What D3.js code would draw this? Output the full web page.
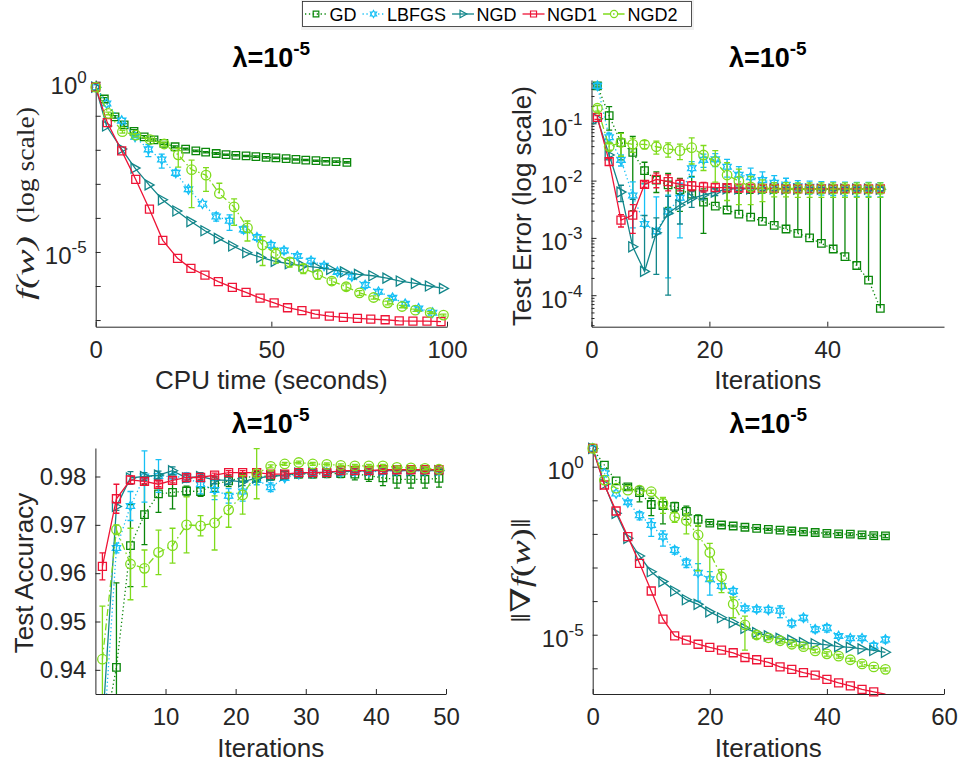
<!DOCTYPE html>
<html><head><meta charset="utf-8">
<script src="https://cdn.jsdelivr.net/npm/d3@7/dist/d3.min.js"></script>
<style>body{margin:0;background:#fff}svg{display:block}</style>
</head><body>
<svg id="c" width="958" height="767"></svg>
<script>
// ---------------- data ----------------
const seriesNames = ["GD","LBFGS","NGD","NGD1","NGD2"];
const titleBase = "λ=10", titleExp = "-5";

// Panel 1: f(w) vs CPU time
const p1GD_t = [0,2.45,5.5,8.1,10.9,13.8,16.6,19.4,22.6,25.6,28.5,31.3,34.3,37.1,39.9,42.8,45.6,48.5,51.3,54.2,57.0,59.8,62.7,65.5,68.4,71.5];
const p1GD_v = [0.69,0.31,0.093,0.054,0.035,0.024,0.0195,0.0155,0.0123,0.0105,0.0093,0.0085,0.0078,0.0072,0.0069,0.0066,0.0063,0.006,0.0058,0.0055,0.0052,0.005,0.0048,0.0046,0.0045,0.0043];
const p1GD_e = [0,0.03,0.008,0.005,0.004,0.002,0.0015,0.001,0.0008,0.0006,0.0005,0.0004,0.0004,0.0003,0.0003,0.0003,0.0003,0.0003,0.0003,0.0002,0.0002,0.0002,0.0002,0.0002,0.0002,0.0002];
const p1LBFGS_t = [0,3.1,7.4,11.2,15.0,18.8,22.8,26.4,30.4,34.3,38.1,42.1,45.9,49.9,53.6,57.4,61.3,65.0,68.8,72.9,76.7,80.5,84.5,88.1,91.9,95.9];
const p1LBFGS_v = [0.69,0.23,0.072,0.024,0.0103,0.0052,0.0021,6.9e-4,2.6e-4,1.1e-4,8.3e-5,4.6e-5,2.7e-5,1.6e-5,1.1e-5,7.6e-6,5.5e-6,3.9e-6,2.6e-6,1.9e-6,1.07e-6,6.8e-7,4.5e-7,3.0e-7,2.2e-7,1.65e-7];
const p1LBFGS_e = [0,0,0,0.001,0.004,0.0023,0.0004,1e-4,0,3e-5,4e-5,1e-5,5e-6,3e-6,2e-6,1e-6,1e-6,5e-7,3e-7,3e-7,2e-7,1e-7,5e-8,3e-8,2e-8,1e-8];
const p1NGD_t = [0,3.1,7.4,11.2,15.2,19.0,23.1,27.1,31.1,34.9,39.0,43.0,47.0,51.1,55.1,59.0,63.0,66.9,70.8,74.8,78.9,82.9,86.7,91.0,95.0,99.0];
const p1NGD_v = [0.69,0.05,0.0105,2.9e-3,9.3e-4,3.4e-4,1.6e-4,7.8e-5,4.2e-5,2.5e-5,1.5e-5,9.5e-6,6.9e-6,5.3e-6,4.5e-6,3.9e-6,3.5e-6,3.1e-6,2.6e-6,2.2e-6,2.0e-6,1.7e-6,1.4e-6,1.2e-6,1.0e-6,8.5e-7];
const p1NGD1_t = [0,3.3,7.4,11.4,15.3,19.1,23.3,27.1,31.1,34.9,38.9,42.8,46.8,50.8,54.6,58.7,62.5,66.5,70.5,74.5,78.3,82.4,86.4,90.3,94.3,98.3];
const p1NGD1_v = [0.69,0.063,9.3e-3,1.35e-3,1.8e-4,2.2e-5,6.5e-6,3.3e-6,2.1e-6,1.35e-6,9.1e-7,6.5e-7,4.4e-7,3.2e-7,2.3e-7,1.9e-7,1.5e-7,1.3e-7,1.2e-7,1.12e-7,1.07e-7,1.02e-7,9.5e-8,9.3e-8,9.3e-8,9.0e-8];
const p1NGD2_t = [0,3.6,7.6,11.4,15.5,19.5,23.5,27.3,31.4,35.2,39.4,43.2,47.5,51.3,55.2,59.1,63.2,67.2,71.3,75.1,79.1,83.1,87.2,91.0,95.2,99.0];
const p1NGD2_v = [0.69,0.117,0.034,0.027,0.020,0.0148,7.1e-3,2.6e-3,1.8e-3,5.2e-4,2.1e-4,5.1e-5,1.6e-5,8.7e-6,5.1e-6,3.3e-6,2.2e-6,1.4e-6,9.5e-7,6.3e-7,4.6e-7,3.2e-7,2.5e-7,1.95e-7,1.66e-7,1.4e-7];
const p1NGD2_e = [0,0.01,0.003,0.003,0.002,0.002,4e-3,2.4e-3,1.2e-3,5.2e-4,1.5e-4,3e-5,1.2e-5,4e-6,1.5e-6,1e-6,6e-7,3e-7,2e-7,1e-7,5e-8,4e-8,2e-8,1.5e-8,1e-8,1e-8];

// iterations
const itersOdd = [1,3,5,7,9,11,13,15,17,19,21,23,25,27,29,31,33,35,37,39,41,43,45,47,49];
const itersEven = [0,2,4,6,8,10,12,14,16,18,20,22,24,26,28,30,32,34,36,38,40,42,44,46,48,50];

// Panel 2: test error
const p2GD_v = [0.45,0.136,0.046,0.031,0.0149,0.0102,8.4e-3,6.9e-3,5.8e-3,4.2e-3,3.6e-3,3.07e-3,2.6e-3,2.3e-3,1.95e-3,1.66e-3,1.43e-3,1.2e-3,1.0e-3,8.0e-4,6.4e-4,4.7e-4,3.3e-4,1.84e-4,5.9e-5];
const p2GD_e = [0.02,0.06,0.023,0.028,0.006,0.004,0.005,0.004,0.006,0.003,3.7e-3,3.1e-3,3.4e-3,3.7e-3,4.05e-3,4.34e-3,4.57e-3,4.8e-3,5.0e-3,5.2e-3,5.36e-3,5.53e-3,5.67e-3,5.8e-3,5.9e-3];
const p2LBFGS_v = [0.45,0.057,0.023,5.5e-3,1.75e-3,1.3e-3,2.9e-3,5e-3,0.0164,0.023,0.0235,0.0175,0.0126,0.0115,0.0102,9.2e-3,8.5e-3,8e-3,7.8e-3,7.6e-3,7.5e-3,7.4e-3,7.3e-3,7.3e-3,7.2e-3];
const p2LBFGS_e = [0.05,0.01,0.005,4e-3,7e-3,3.9e-3,2.7e-3,4e-3,5e-3,6e-3,6e-3,6e-3,5e-3,5e-3,4e-3,3e-3,2.5e-3,2e-3,2e-3,2e-3,2e-3,2e-3,2e-3,2e-3,2e-3];
const p2NGD_v = [0.12,0.028,6.3e-3,7.0e-4,2.6e-4,1.23e-3,2.7e-3,3.75e-3,4.9e-3,5.6e-3,6.3e-3,7.2e-3,7.2e-3,7.2e-3,7.2e-3,7.2e-3,7.1e-3,7.1e-3,7.1e-3,7.1e-3,7.1e-3,7.1e-3,7.1e-3,7.1e-3,7.1e-3];
const p2NGD_e = [0,0.005,2e-3,4e-3,2.2e-3,1e-3,2.6e-3,2e-3,1.5e-3,1e-3,8e-4,6e-4,5e-4,5e-4,5e-4,5e-4,5e-4,5e-4,5e-4,5e-4,5e-4,5e-4,5e-4,5e-4,5e-4];
const p2NGD1_v = [0.127,0.0214,2.05e-3,2.5e-3,8.6e-3,0.0105,0.0096,8.6e-3,8.1e-3,7.8e-3,7.6e-3,7.5e-3,7.4e-3,7.4e-3,7.3e-3,7.3e-3,7.2e-3,7.2e-3,7.2e-3,7.2e-3,7.2e-3,7.2e-3,7.2e-3,7.2e-3,7.2e-3];
const p2NGD1_e = [0.01,0.003,5e-4,1.3e-3,1e-3,3e-3,3e-3,2e-3,1.5e-3,1.5e-3,1.2e-3,1e-3,1e-3,1e-3,1e-3,1e-3,1e-3,1e-3,1e-3,1e-3,1e-3,1e-3,1e-3,1e-3,1e-3];
const p2NGD2_v = [0.183,0.039,0.0466,0.043,0.043,0.039,0.0356,0.0333,0.0375,0.028,0.0214,0.0125,0.0098,7.8e-3,7.3e-3,7.2e-3,7.2e-3,7.1e-3,7.1e-3,7.1e-3,7.1e-3,7.1e-3,7.1e-3,7.1e-3,7.1e-3];
const p2NGD2_e = [0.02,0.005,0.02,0.012,0.007,0.01,0.01,0.01,0.018,0.013,0.012,0.008,0.006,0.004,3e-3,2e-3,2e-3,2e-3,2e-3,2e-3,2e-3,2e-3,2e-3,2e-3,2e-3];

// Panel 3: test accuracy
const p3GD_v = [0.925,0.9405,0.9657,0.9721,0.9764,0.9767,0.977,0.9769,0.9784,0.9791,0.9798,0.98,0.9801,0.9803,0.9805,0.9805,0.9806,0.9806,0.9805,0.9802,0.9797,0.9794,0.9794,0.9794,0.9796];
const p3GD_e = [0,0.0175,0.0085,0.0062,0.0038,0.0034,0.001,0.001,0.0015,0.0012,0.001,0.001,0.0008,0.0008,0.0008,0.0008,0.0008,0.0008,0.0012,0.0012,0.0016,0.0018,0.0018,0.0018,0.0018];
const p3LBFGS_v = [0.922,0.9652,0.9739,0.98,0.9801,0.98,0.9798,0.9784,0.9772,0.976,0.9769,0.9793,0.9778,0.9797,0.9805,0.9807,0.9808,0.9809,0.981,0.981,0.9811,0.9812,0.9812,0.9812,0.9812];
const p3LBFGS_e = [0,0.001,0.003,0.0053,0.0034,0.0005,0.001,0.002,0.002,0.0015,0.002,0.001,0.0009,0.0005,0.0005,0.0005,0.0005,0.0005,0.0005,0.0005,0.0005,0.0005,0.0005,0.0005,0.0005];
const p3NGD_v = [0.928,0.9738,0.9797,0.98,0.9803,0.9812,0.9797,0.98,0.9793,0.9792,0.9789,0.9797,0.98,0.9803,0.9807,0.9808,0.9809,0.981,0.9811,0.9812,0.9812,0.9812,0.9812,0.9812,0.9812];
const p3NGD_e = [0,0.0008,0.0013,0.0008,0.0008,0.0008,0.0008,0.0008,0.0008,0.0008,0.0008,0.0008,0.0008,0.0008,0.0008,0.0007,0.0007,0.0006,0.0006,0.0006,0.0006,0.0006,0.0006,0.0006,0.0006];
const p3NGD1_v = [0.9614,0.9754,0.9793,0.979,0.9784,0.9792,0.9798,0.9798,0.9803,0.9808,0.9808,0.9808,0.9805,0.9805,0.9808,0.9808,0.9808,0.9812,0.9812,0.9812,0.9814,0.9814,0.9814,0.9814,0.9814];
const p3NGD1_e = [0.0028,0.003,0.0008,0.0005,0.0005,0.0005,0.0005,0.0004,0.0004,0.0004,0.0004,0.0004,0.0004,0.0004,0.0004,0.0004,0.0004,0.0004,0.0004,0.0004,0.0004,0.0004,0.0004,0.0004,0.0004];
const p3NGD2_v = [0.9422,0.969,0.9619,0.961,0.9643,0.9657,0.970,0.9698,0.9704,0.9731,0.9762,0.9806,0.9821,0.9826,0.9829,0.9826,0.9825,0.9823,0.9822,0.9822,0.9822,0.9819,0.9818,0.9817,0.9815];
const p3NGD2_e = [0.011,0.001,0.0074,0.0038,0.0046,0.0036,0.0058,0.0021,0.0056,0.0036,0.004,0.0052,0.0003,0.0003,0.0003,0.0003,0.0003,0.0003,0.0003,0.0003,0.0003,0.0003,0.0003,0.0003,0.0003];

// Panel 4: gradient norm
const p4GD_v = [3.5,1.12,0.38,0.25,0.17,0.075,0.07,0.066,0.047,0.027,0.021,0.0184,0.0172,0.0158,0.0146,0.0137,0.013,0.0122,0.0116,0.011,0.0104,0.01,0.0098,0.0093,0.0089,0.0087];
const p4GD_e = [0,0,0,0.04,0.08,0.04,0.05,0.02,0.02,0.01,0.002,0.001,0.001,0.001,0.001,0.001,0.001,0.001,0.001,0.001,0.001,0.001,0.001,0.001,0.001,0.001];
const p4LBFGS_v = [3.5,0.64,0.16,0.087,0.036,0.0184,8.3e-3,3.3e-3,1.4e-3,7e-4,4.5e-4,2.8e-4,2.0e-4,6.1e-5,5.7e-5,5.5e-5,5.2e-5,2.2e-5,3.2e-5,1.45e-5,1.6e-5,9.1e-6,7.8e-6,7.8e-6,4.7e-6,7.2e-6];
const p4LBFGS_e = [0,0,0,0.01,0.01,0.01,0.004,0.0008,0.0004,6e-4,3e-4,5e-5,4e-5,1e-5,1e-5,1e-5,2e-5,5e-6,6e-6,3e-6,4e-6,1e-6,1e-6,1e-6,1e-6,1.5e-6];
const p4NGD_v = [3.5,0.3,0.041,7.4e-3,2.2e-3,7.5e-4,3.8e-4,2.0e-4,1.1e-4,8e-5,4.8e-5,3.2e-5,2.3e-5,1.55e-5,1.15e-5,9.2e-6,7.8e-6,6.9e-6,5.8e-6,5.4e-6,5.0e-6,4.4e-6,4.2e-6,3.8e-6,3.4e-6,3.0e-6];
const p4NGD1_v = [3.5,0.285,0.048,8.3e-3,1.33e-3,2.0e-4,2.9e-5,9.2e-6,6.9e-6,5.2e-6,4.2e-6,3.5e-6,2.9e-6,2.1e-6,1.8e-6,1.5e-6,1.1e-6,9.3e-7,7.4e-7,6.3e-7,4.7e-7,3.7e-7,3.0e-7,2.35e-7,2.0e-7,1.7e-7];
const p4NGD2_v = [3.5,0.4,0.23,0.2,0.2,0.18,0.081,0.032,0.025,9.3e-3,2.8e-3,5.3e-4,8.2e-5,1.95e-5,9.8e-6,8.1e-6,6.6e-6,5.2e-6,4.4e-6,3.3e-6,2.7e-6,2.3e-6,1.8e-6,1.35e-6,1.1e-6,9.3e-7];
const p4NGD2_e = [0,0,0,0,0,0.02,0.04,0.01,0.015,8.5e-3,2.4e-3,3.5e-4,5e-5,1.6e-5,2e-6,1e-6,1e-6,8e-7,6e-7,4e-7,4e-7,3e-7,2e-7,2e-7,1e-7,1e-7];

// ticks
const p1XTicks = [0,50,100];
const p1YTicks = [1e-7,1e-6,1e-5,1e-4,1e-3,1e-2,1e-1,1];
const p1YLabelled = [1e-5,1];
const p2XTicks = [0,20,40];
const p2YTicks = [1e-4,1e-3,1e-2,1e-1];
const p2YLabelled = [1e-4,1e-3,1e-2,1e-1];
const p3XTicks = [10,20,30,40,50];
const p3YTicks = [0.94,0.95,0.96,0.97,0.98];
const p4XTicks = [0,20,40,60];
const p4YTicks = [1e-6,1e-5,1e-4,1e-3,1e-2,1e-1,1];
const p4YLabelled = [1e-5,1];

// ---------------- styles ----------------
const seriesColors = ["#0a870a","#16c0f5","#12868a","#ee1436","#7fdb1c"];
const seriesDash = ["1.3,2.6","1.3,2.6",null,null,"7,3,1.5,3"];
const seriesMarker = ["square","hexagram","triangle","square","circle"];
const seriesMarkerSize = [7.5,9.5,10,8,9.5];
const FONT = "'Liberation Sans', Arial, Helvetica, sans-serif";
const SERIF = "'Liberation Serif','DejaVu Serif','Times New Roman',serif";
const AX = "#262626";

const svg = d3.select("#c");

function markerPath(type, s){
  if(type==="square"){const h=s/2;return `M${-h},${-h}H${h}V${h}H${-h}Z`;}
  if(type==="circle"){const r=s/2;return `M${r},0A${r},${r} 0 1,1 ${-r},0A${r},${r} 0 1,1 ${r},0Z`;}
  if(type==="triangle"){const h=s/2;return `M${-h*0.8},${-h}L${h},0L${-h*0.8},${h}Z`;}
  if(type==="hexagram"){const R=s/2;const pts=[];for(let i=0;i<12;i++){const a=(-90+i*30)*Math.PI/180;const r=i%2===0?R:R/Math.sqrt(3);pts.push([r*Math.cos(a),r*Math.sin(a)]);}
    return "M"+pts.map(p=>p[0].toFixed(2)+","+p[1].toFixed(2)).join("L")+"Z";}
}

function supLabel(sel, base, exp, fsExp, dyExp){
  sel.text(base);
  sel.append("tspan").attr("font-size",fsExp).attr("dy",dyExp).text(exp);
}

function drawPanel(p){
  const g = svg.append("g");
  const [x0,x1] = p.xs.range(); const [yb,yt] = p.ys.range();
  const clipId = "clip"+p.id;
  svg.append("defs").append("clipPath").attr("id",clipId).append("rect")
     .attr("x",x0).attr("y",yt).attr("width",x1-x0).attr("height",yb-yt);

  if(p.yMinor){
    const ma = d3.axisLeft(p.ys).tickValues(p.yMinor).tickSizeInner(-3).tickSizeOuter(0).tickFormat("");
    const gm = g.append("g").attr("transform",`translate(${x0},0)`).call(ma);
    gm.select(".domain").remove();
    gm.selectAll("line").attr("stroke",AX);
  }
  const xa = d3.axisBottom(p.xs).tickValues(p.xTicks).tickSizeInner(-5).tickSizeOuter(0).tickPadding(14).tickFormat(d3.format("d"));
  const gx = g.append("g").attr("transform",`translate(0,${yb})`).call(xa);
  gx.selectAll("text").attr("font-size",24).attr("font-family",FONT).attr("fill",AX);
  const ya = d3.axisLeft(p.ys).tickValues(p.yTicks).tickSizeInner(-5).tickSizeOuter(0).tickPadding(9)
     .tickFormat(p.log ? (d=>"") : d3.format(".2f"));
  const gy = g.append("g").attr("transform",`translate(${x0},0)`).call(ya);
  gy.selectAll("text").attr("font-size",24).attr("font-family",FONT).attr("fill",AX);
  if(p.log){
    gy.selectAll(".tick").each(function(d){
      if(p.yLabelled.some(v=>Math.abs(Math.log10(v)-Math.log10(d))<1e-6)){
        const t = d3.select(this).select("text").attr("dy",null).attr("y",12);
        supLabel(t,"10",String(Math.round(Math.log10(d))),17,-11);
      }
    });
  }
  g.selectAll(".domain,.tick line").attr("stroke",AX).attr("stroke-width",1);

  const tt = g.append("text").attr("x",(x0+x1)/2).attr("y",p.titleY).attr("text-anchor","middle")
     .attr("font-family",FONT).attr("font-weight","bold").attr("font-size",27).attr("fill","#000");
  supLabel(tt,titleBase,titleExp,19,-12);
  g.append("text").attr("x",(x0+x1)/2).attr("y",yb+62.7).attr("text-anchor","middle")
     .attr("font-family",FONT).attr("font-size",26).attr("fill",AX).text(p.xLabel);
  p.yLabel(g);

  const plot = g.append("g");
  p.series.forEach((s,i)=>{
    const col = seriesColors[i];
    const pts = s.x.map((xv,k)=>({x:xv,v:s.v[k],e:s.e?s.e[k]:0}));
    const gs = plot.append("g");
    const clipped = gs.append("g").attr("clip-path",`url(#${clipId})`);
    const lo = p.ys.domain()[0];
    pts.filter(d=>d.e>0).forEach(d=>{
      const px = p.xs(d.x);
      const top = p.ys(d.v+d.e);
      const hasLow = d.v-d.e>0;
      const bot = hasLow ? p.ys(Math.max(d.v-d.e, p.log? lo*0.5 : d.v-d.e)) : p.ys(d.v);
      clipped.append("line").attr("x1",px).attr("x2",px).attr("y1",top).attr("y2",bot)
        .attr("stroke",col).attr("stroke-width",1.3);
      clipped.append("line").attr("x1",px-3).attr("x2",px+3).attr("y1",top).attr("y2",top)
        .attr("stroke",col).attr("stroke-width",1.3);
      if(hasLow) clipped.append("line").attr("x1",px-3).attr("x2",px+3).attr("y1",bot).attr("y2",bot)
        .attr("stroke",col).attr("stroke-width",1.3);
    });
    const line = d3.line().x(d=>p.xs(d.x)).y(d=>p.ys(d.v));
    clipped.append("path").attr("d",line(pts)).attr("fill","none").attr("stroke",col)
      .attr("stroke-width",1.3).attr("stroke-dasharray",seriesDash[i]);
    const yd = p.ys.domain();
    gs.selectAll("path.m").data(pts.filter(d=>d.v>=yd[0] && d.v<=yd[1])).join("path").attr("class","m")
      .attr("transform",d=>`translate(${p.xs(d.x)},${p.ys(d.v)})`)
      .attr("d",markerPath(seriesMarker[i],seriesMarkerSize[i]))
      .attr("fill","none").attr("stroke",col).attr("stroke-width",1.3);
  });
}

function rotLabel(g,cx,cy,txt,opts){
  const t = g.append("text").attr("transform",`translate(${cx},${cy}) rotate(-90)`)
    .attr("text-anchor","middle").attr("dy","0.35em").attr("fill",AX)
    .attr("font-family",opts.family||FONT).attr("font-size",opts.size||26);
  if(opts.italic) t.attr("font-style","italic");
  if(opts.len) t.attr("textLength",opts.len).attr("lengthAdjust","spacingAndGlyphs");
  t.text(txt);
  return t;
}

const p2Minor = [];
[1e-5,1e-4,1e-3,1e-2,1e-1].forEach(dec=>{for(let m=2;m<=9;m++){const v=m*dec; if(v>=2.82e-5 && v<=0.57) p2Minor.push(v);}});

const panels = [
 { id:1, xs:d3.scaleLinear([0,100],[95.7,447]), ys:d3.scaleLog([6.38e-8,1.122],[326.7,80]), log:true,
   xTicks:p1XTicks, yTicks:p1YTicks, yLabelled:p1YLabelled, titleY:66.7, xLabel:"CPU time (seconds)",
   yLabel:g=>{ rotLabel(g,25,268,"f(w)",{family:SERIF,italic:true,size:26,len:64});
               rotLabel(g,25,165,"(log scale)",{family:SERIF,size:26,len:116}); },
   series:[{x:p1GD_t,v:p1GD_v,e:p1GD_e},{x:p1LBFGS_t,v:p1LBFGS_v,e:p1LBFGS_e},{x:p1NGD_t,v:p1NGD_v},
           {x:p1NGD1_t,v:p1NGD1_v},{x:p1NGD2_t,v:p1NGD2_v,e:p1NGD2_e}] },
 { id:2, xs:d3.scaleLinear([0,59.8],[591.5,944]), ys:d3.scaleLog([2.82e-5,0.570],[326.7,80]), log:true,
   xTicks:p2XTicks, yTicks:p2YTicks, yLabelled:p2YLabelled, yMinor:p2Minor, titleY:66.7, xLabel:"Iterations",
   yLabel:g=>{ rotLabel(g,521.5,206,"Test Error (log scale)",{}); },
   series:[{x:itersOdd,v:p2GD_v,e:p2GD_e},{x:itersOdd,v:p2LBFGS_v,e:p2LBFGS_e},{x:itersOdd,v:p2NGD_v,e:p2NGD_e},
           {x:itersOdd,v:p2NGD1_v,e:p2NGD1_e},{x:itersOdd,v:p2NGD2_v,e:p2NGD2_e}] },
 { id:3, xs:d3.scaleLinear([0,50],[95.4,446]), ys:d3.scaleLinear([0.935,0.9859],[694,448]), log:false,
   xTicks:p3XTicks, yTicks:p3YTicks, titleY:433.3, xLabel:"Iterations",
   yLabel:g=>{ rotLabel(g,24,573,"Test Accuracy",{}); },
   series:[{x:itersOdd,v:p3GD_v,e:p3GD_e},{x:itersOdd,v:p3LBFGS_v,e:p3LBFGS_e},{x:itersOdd,v:p3NGD_v,e:p3NGD_e},
           {x:itersOdd,v:p3NGD1_v,e:p3NGD1_e},{x:itersOdd,v:p3NGD2_v,e:p3NGD2_e}] },
 { id:4, xs:d3.scaleLinear([0,60],[592.7,944]), ys:d3.scaleLog([1.72e-7,4.13],[694,446]), log:true,
   xTicks:p4XTicks, yTicks:p4YTicks, yLabelled:p4YLabelled, titleY:433.3, xLabel:"Iterations",
   yLabel:g=>{ const t=g.append("text").attr("transform","translate(521,570.5) rotate(-90)")
       .attr("text-anchor","middle").attr("dy","0.35em").attr("fill",AX).attr("font-family",SERIF).attr("font-size",27)
       .attr("textLength",105).attr("lengthAdjust","spacingAndGlyphs");
       t.append("tspan").text("‖∇");
       t.append("tspan").attr("font-style","italic").text("f");
       t.append("tspan").text("(");
       t.append("tspan").attr("font-style","italic").text("w");
       t.append("tspan").text(")‖"); },
   series:[{x:itersEven,v:p4GD_v,e:p4GD_e},{x:itersEven,v:p4LBFGS_v,e:p4LBFGS_e},{x:itersEven,v:p4NGD_v},
           {x:itersEven,v:p4NGD1_v},{x:itersEven,v:p4NGD2_v,e:p4NGD2_e}] }
];
panels.forEach(drawPanel);

// ---------------- legend ----------------
const lg = svg.append("g");
lg.append("rect").attr("x",301).attr("y",0).attr("width",393).attr("height",30).attr("fill","#f0f0f0");
lg.append("rect").attr("x",302.5).attr("y",1.5).attr("width",389).attr("height",25).attr("fill","#fff")
  .attr("stroke",AX).attr("stroke-width",0.8);
let cur = 305;
seriesNames.forEach((nm,i)=>{
  const col = seriesColors[i];
  lg.append("line").attr("x1",cur).attr("x2",cur+22).attr("y1",14).attr("y2",14).attr("stroke",col)
    .attr("stroke-width",1.3).attr("stroke-dasharray",seriesDash[i]);
  lg.append("path").attr("transform",`translate(${cur+11},14)`).attr("d",markerPath(seriesMarker[i],seriesMarkerSize[i]*0.75))
    .attr("fill","none").attr("stroke",col).attr("stroke-width",1.2);
  const t = lg.append("text").attr("x",cur+24.5).attr("y",20.5).attr("font-family",FONT).attr("font-size",18)
    .attr("fill","#000").text(nm);
  cur = cur + 24.5 + t.node().getComputedTextLength() + 6;
});
</script>
</body></html>
